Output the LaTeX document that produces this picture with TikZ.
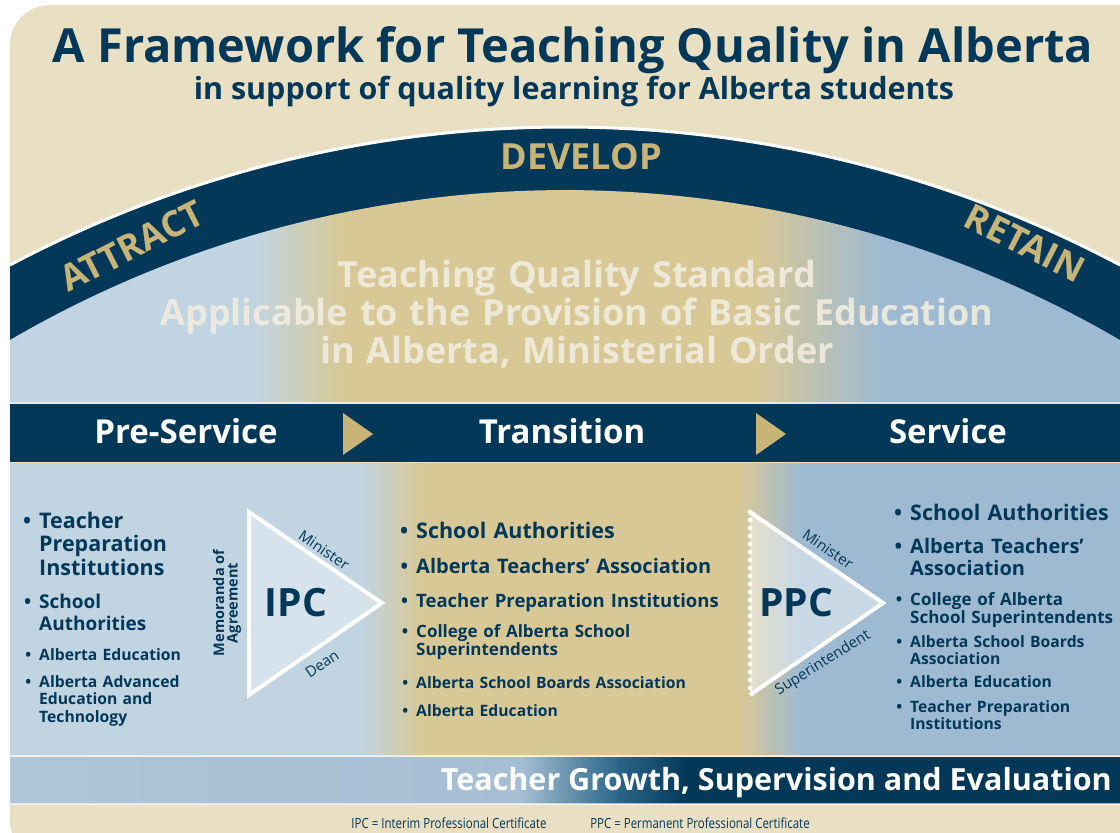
\documentclass[tikz,border=0pt]{standalone}
\usepackage{fontspec}
\setmainfont{Open Sans}
\newfontfamily\narrowfont[FakeStretch=0.82]{Open Sans}
\usetikzlibrary{positioning}
\definecolor{navyBand}{RGB}{4,56,89}
\definecolor{goldText}{RGB}{201,180,120}
\definecolor{beigeTop}{RGB}{233,223,195}
\definecolor{beigeLow}{RGB}{246,241,229}
\definecolor{skyLeft}{RGB}{193,212,226}
\definecolor{skyRight}{RGB}{158,186,210}
\definecolor{wheat}{RGB}{216,200,150}
\definecolor{mistText}{RGB}{241,236,223}
\definecolor{growthLeft}{RGB}{186,205,221}
\definecolor{growthMid}{RGB}{165,190,211}
\definecolor{growthTeal}{RGB}{40,100,135}
% gradients across the full width (path spans 25bp..75bp)
\pgfdeclarehorizontalshading{upperglow}{100bp}{color(0bp)=(skyLeft); color(36bp)=(skyLeft); color(40bp)=(wheat); color(58.6bp)=(wheat); color(64.2bp)=(skyRight); color(100bp)=(skyRight)}
\pgfdeclarehorizontalshading{lowerglow}{100bp}{color(0bp)=(skyLeft); color(40.8bp)=(skyLeft); color(43.5bp)=(wheat); color(57.9bp)=(wheat); color(60.6bp)=(skyRight); color(100bp)=(skyRight)}
\pgfdeclarehorizontalshading{growthband}{100bp}{color(0bp)=(growthLeft); color(48bp)=(growthMid); color(52.5bp)=(growthTeal); color(55.5bp)=(navyBand); color(100bp)=(navyBand)}
\newcommand{\bul}{\llap{\textbullet\hspace{8pt}}}

\begin{document}
\begin{tikzpicture}[x=1pt, y=-1pt,
    heading/.style={text=navyBand, font=\fontsize{47}{50}\selectfont\bfseries, inner sep=0, anchor=base},
    subheading/.style={text=navyBand, font=\fontsize{30.5}{32}\selectfont\bfseries, inner sep=0, anchor=base},
    archword/.style={text=goldText, font=\fontsize{36}{38}\selectfont\bfseries, inner sep=0},
    standard/.style={text=mistText, font=\fontsize{36}{38}\selectfont\bfseries, align=center, text width=1000pt, inner sep=0, anchor=base},
    phase/.style={text=white, font=\fontsize{33}{36}\selectfont\bfseries, inner sep=0, anchor=base},
    entry/.style={text=navyBand, align=left, inner sep=0, anchor=base west},
    entryA/.style={entry, font=\fontsize{21.5}{23.5}\selectfont\bfseries},
    entryB/.style={entry, font=\fontsize{20}{22}\selectfont\bfseries},
    entryC/.style={entry, font=\fontsize{17}{18.5}\selectfont\bfseries},
    entryD/.style={entry, font=\fontsize{15.7}{17.8}\selectfont\bfseries},
    certname/.style={text=navyBand, font=\fontsize{39}{42}\selectfont\bfseries, inner sep=0},
    edgeword/.style={text=navyBand, font=\fontsize{15}{16}\selectfont, inner sep=0},
    footnote/.style={text=navyBand, font=\narrowfont\fontsize{14}{15}\selectfont, inner sep=0, anchor=base}
]
    \useasboundingbox (0,0) rectangle (1120,833);
    % background
    \shade[top color=beigeTop, middle color=beigeLow, bottom color=beigeTop, rounded corners=40] (10,5) rectangle (1170,860);

    % arch and standard area
    \fill[navyBand] (10,404) -- (10,265) arc[start angle=-117.93, end angle=-62.07, radius=1185] -- (1120,404) -- cycle;
    \draw[white, line width=3] (10,265) arc[start angle=-117.93, end angle=-62.07, radius=1185];
    \shade[shading=upperglow] (10,404) -- (10,340) arc[start angle=-120.24, end angle=-59.76, radius=1102] -- (1120,404) -- cycle;

    \node[heading] (title) at (573,62) {A Framework for Teaching Quality in Alberta};
    \node[subheading] (subtitle) at (574,99) {in support of quality learning for Alberta students};
    \node[archword, anchor=base] (develop) at (581,169) {DEVELOP};
    \node[archword, rotate=27] (attract) at (132,246) {ATTRACT};
    \node[archword, rotate=-27] (retain) at (1025,243) {RETAIN};
    \node[standard, opacity=.9] (tqs) at (577,287) {Teaching Quality Standard\\Applicable to the Provision of Basic Education\\in Alberta, Ministerial Order};

    % phase band
    \fill[navyBand] (10,404) rectangle (1120,462);
    \draw[white, opacity=.6, line width=1.5] (10,403) -- (1120,403);
    \node[phase] (preservice) at (186,443) {Pre-Service};
    \node[phase] (transition) at (562,443) {Transition};
    \node[phase] (service) at (948,443) {Service};
    \fill[goldText] (343,413) -- (373,434) -- (343,455) -- cycle;
    \fill[goldText] (756,413) -- (786,434) -- (756,455) -- cycle;

    % lower area
    \shade[shading=lowerglow] (10,463) rectangle (1120,755);
    \shade[shading=growthband] (10,757) rectangle (1120,803);
    \draw[white, opacity=.6, line width=1.5] (10,756) -- (1120,756);
    \draw[white, opacity=.6, line width=1.5] (10,804) -- (1120,804);
    \node[phase, anchor=base east, font=\fontsize{30.5}{34}\selectfont\bfseries] (growth) at (1112,790) {Teacher Growth, Supervision and Evaluation};

    % IPC
    \coordinate (ipcTop) at (249,512);
    \coordinate (ipcBot) at (249,695);
    \coordinate (ipcTip) at (382,603);
    \fill[white, opacity=.35] (ipcTop) -- (ipcTip) -- (ipcBot) -- cycle;
    \draw[white, line width=4] (ipcTop) -- (ipcTip) -- (ipcBot) -- cycle;
    \node[certname] (ipc) at (296,603) {IPC};
    \node[edgeword, rotate=-34.4] (ipcmin) at (324,550) {Minister};
    \node[edgeword, rotate=34.4] (ipcdean) at (322,664) {Dean};
    \node[edgeword, font=\fontsize{14.5}{13.5}\selectfont\bfseries, align=center, rotate=90] (moa) at (227,603) {Memoranda of\\Agreement};

    % PPC
    \coordinate (ppcTop) at (750,512);
    \coordinate (ppcBot) at (750,695);
    \coordinate (ppcTip) at (883,603);
    \fill[white, opacity=.45] (ppcTop) -- (ppcTip) -- (ppcBot) -- cycle;
    \draw[white, line width=4] (ppcTop) -- (ppcTip) -- (ppcBot);
    \draw[white, line width=5, line cap=round, dash pattern=on 0pt off 8pt] (ppcTop) -- (ppcBot);
    \node[certname] (ppc) at (796,603) {PPC};
    \node[edgeword, rotate=-34.4] (ppcmin) at (828,549) {Minister};
    \node[edgeword, rotate=32] (ppcsup) at (823,663) {Superintendent};

    % pre-service list
    \node[entryA, text width=168pt] (pre1) at (39,528) {\bul Teacher\\Preparation\\Institutions};
    \node[entryB, text width=168pt, font=\fontsize{19}{22}\selectfont\bfseries] (pre2) at (39,608) {\bul School\\Authorities};
    \node[entryD, text width=168pt] (pre3) at (39,660) {\bul Alberta Education};
    \node[entryD, text width=168pt] (pre4) at (39,687) {\bul Alberta Advanced\\Education and\\Technology};

    % transition list
    \node[entryA, text width=320pt] (tra1) at (416,538) {\bul School Authorities};
    \node[entryB, text width=320pt] (tra2) at (416,573) {\bul Alberta Teachers’ Association};
    \node[entryC, text width=320pt, font=\fontsize{18.5}{20}\selectfont\bfseries] (tra3) at (416,607) {\bul Teacher Preparation Institutions};
    \node[entryC, text width=320pt] (tra4) at (416,637) {\bul College of Alberta School\\Superintendents};
    \node[entryD, text width=320pt] (tra5) at (416,688) {\bul Alberta School Boards Association};
    \node[entryD, text width=320pt] (tra6) at (416,716) {\bul Alberta Education};

    % service list
    \node[entryA, text width=205pt] (ser1) at (910,520) {\bul School Authorities};
    \node[entryB, text width=205pt] (ser2) at (910,553) {\bul Alberta Teachers’\\Association};
    \node[entryC, text width=205pt] (ser3) at (910,605) {\bul College of Alberta\\School Superintendents};
    \node[entryD, text width=205pt] (ser4) at (910,647) {\bul Alberta School Boards\\Association};
    \node[entryD, text width=205pt] (ser5) at (910,687) {\bul Alberta Education};
    \node[entryD, text width=205pt] (ser6) at (910,712) {\bul Teacher Preparation\\Institutions};

    % footer
    \node[footnote] (ipcnote) at (449,828) {IPC = Interim Professional Certificate};
    \node[footnote] (ppcnote) at (700,828) {PPC = Permanent Professional Certificate};
\end{tikzpicture}
\end{document}
